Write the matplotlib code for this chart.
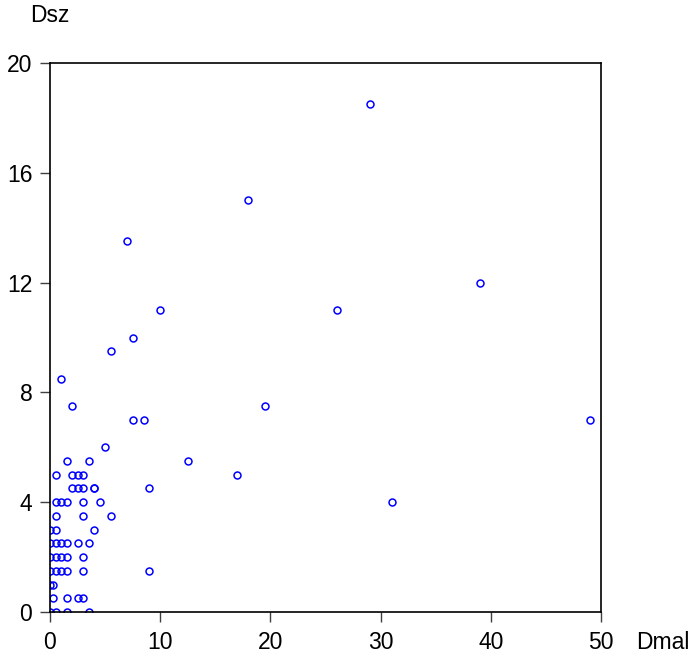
import numpy as np
from matplotlib import pyplot as plt

plt.rcParams['font.family'] = ['Liberation Sans', 'DejaVu Sans']

# Dmal (x) and Dsz (y) values
dmal = [29, 18, 7, 39, 10, 26, 7.5, 5.5, 1, 2, 19.5, 7.5, 8.5, 49,
        5, 12.5, 17, 9, 31, 9,
        1.5, 3.5,
        0.5, 2, 2.5, 3,
        2, 2.5, 3, 4, 4,
        0.5, 1, 1.5, 3, 4.5,
        0.5, 3, 5.5,
        0, 0.5, 4,
        0, 0.5, 1, 1.5, 2.5, 3.5,
        0, 0.5, 1, 1.5, 3,
        0, 0.5, 1, 1.5, 3,
        0, 0.3,
        0.3, 1.5, 2.5, 3,
        0, 0.5, 1.5, 3.5]
dsz = [18.5, 15, 13.5, 12, 11, 11, 10, 9.5, 8.5, 7.5, 7.5, 7, 7, 7,
       6, 5.5, 5, 4.5, 4, 1.5,
       5.5, 5.5,
       5, 5, 5, 5,
       4.5, 4.5, 4.5, 4.5, 4.5,
       4, 4, 4, 4, 4,
       3.5, 3.5, 3.5,
       3, 3, 3,
       2.5, 2.5, 2.5, 2.5, 2.5, 2.5,
       2, 2, 2, 2, 2,
       1.5, 1.5, 1.5, 1.5, 1.5,
       1, 1,
       0.5, 0.5, 0.5, 0.5,
       0, 0, 0, 0]

x_ticks = [0, 10, 20, 30, 40, 50]
y_ticks = [0, 4, 8, 12, 16, 20]

fig = plt.figure(figsize=[6.97, 6.55], dpi=100)
ax = fig.add_axes([50 / 697, 43 / 655, 551 / 697, 549 / 655])

ax.plot(dmal, dsz, 'o', mfc='none', mec='#0000ff', ms=5.0, mew=1.1,
        zorder=3)

ax.set_xlim(0, 50)
ax.set_ylim(0, 20)
ax.set_xticks(x_ticks)
ax.set_yticks(y_ticks)
ax.tick_params(axis='both', direction='out', length=7.2, width=1,
               labelsize=16.5, color='#404040')
ax.tick_params(axis='y', pad=5.5)
ax.tick_params(axis='x', pad=6.5)
for s in ax.spines.values():
    s.set_linewidth(1.2)
    s.set_zorder(4)

fig.text(30 / 697, 1 - 15 / 655, 'Dsz', fontsize=16.5, ha='left',
         va='center')
fig.text(636 / 697, 6 / 655, 'Dmal', fontsize=16.5, ha='left',
         va='baseline')

plt.savefig('out.png')
